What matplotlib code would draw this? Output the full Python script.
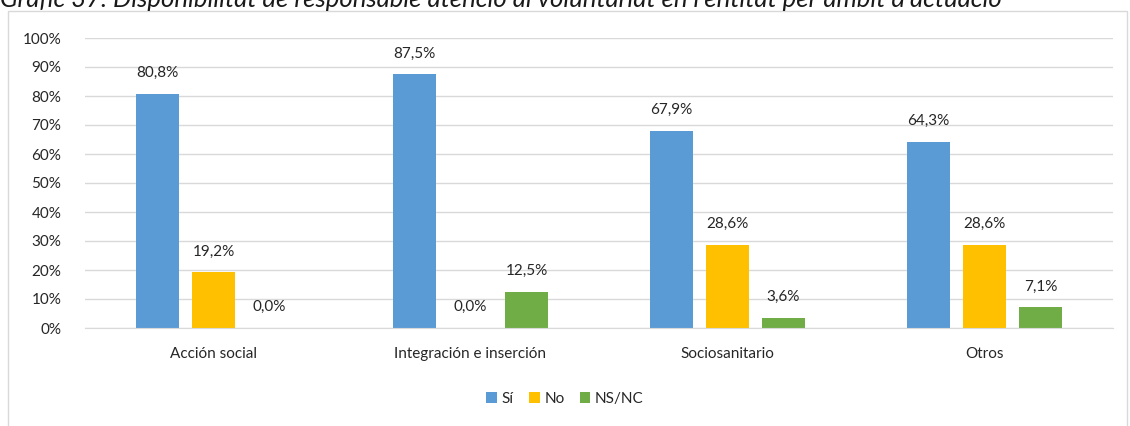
import matplotlib
matplotlib.use("Agg")
import matplotlib.pyplot as plt
from matplotlib.patches import Rectangle
import numpy as np

plt.rcParams['font.family'] = ['Lato', 'DejaVu Sans']

categories = ["Acción social", "Integración e inserción", "Sociosanitario", "Otros"]
series_names = ["Sí", "No", "NS/NC"]
si_values = [80.8, 87.5, 67.9, 64.3]
no_values = [19.2, 0.0, 28.6, 28.6]
nsnc_values = [0.0, 12.5, 3.6, 7.1]
colors = ["#5B9BD5", "#FFC000", "#70AD47"]
y_ticks = [0, 10, 20, 30, 40, 50, 60, 70, 80, 90, 100]
title = "Gràfic 37. Disponibilitat de responsable atenció al voluntariat en l'entitat per àmbit d'actuació"

W, H = 1130, 426
fig = plt.figure(figsize=(W / 100, H / 100), dpi=100)

# chart frame
fig.patches.append(Rectangle((8 / W, -0.1), (1127 - 8) / W, 1 - 11 / H + 0.1,
                             transform=fig.transFigure, fill=False,
                             edgecolor="#D9D9D9", linewidth=1.0))
fig.text(0.0, 1 - 7 / H, title, fontsize=18.5, style="italic",
         color="#1A1A1A", ha="left", va="baseline")

ax = fig.add_axes([85 / W, 1 - 328 / H, (1113 - 85) / W, (328 - 38) / H])
x = np.arange(len(categories))
width = 0.171
step = 0.218
series = [si_values, no_values, nsnc_values]
for i, (vals, name, c) in enumerate(zip(series, series_names, colors)):
    pos = x + (i - 1) * step
    ax.bar(pos, vals, width, color=c, label=name)
    for xp, v in zip(pos, vals):
        ax.annotate(f"{v:.1f}%".replace(".", ","), (xp, v), xytext=(0, 15),
                    textcoords="offset points", ha="center", va="center",
                    fontsize=11, color="#262626")

ax.set_xlim(-0.5, len(categories) - 0.5)
ax.set_ylim(0, 100)
ax.set_yticks(y_ticks)
ax.set_yticklabels([f"{t}%" for t in y_ticks])
ax.set_xticks(x)
ax.set_xticklabels(categories)
ax.tick_params(axis="both", length=0, labelsize=11, labelcolor="#262626")
ax.tick_params(axis="y", pad=17)
ax.tick_params(axis="x", pad=14)
ax.grid(axis="y", color="#D9D9D9", linewidth=1.0)
ax.set_axisbelow(True)
for s in ["top", "right", "left"]:
    ax.spines[s].set_visible(False)
ax.spines["bottom"].set_color("#D9D9D9")

fig.legend(loc="center", bbox_to_anchor=(565 / W, 1 - 399 / H), ncol=3, frameon=False,
           fontsize=11, handlelength=0.7, handleheight=0.7, handletextpad=0.3,
           columnspacing=1.0, labelcolor="#262626")

fig.savefig("out.png", dpi=100)
